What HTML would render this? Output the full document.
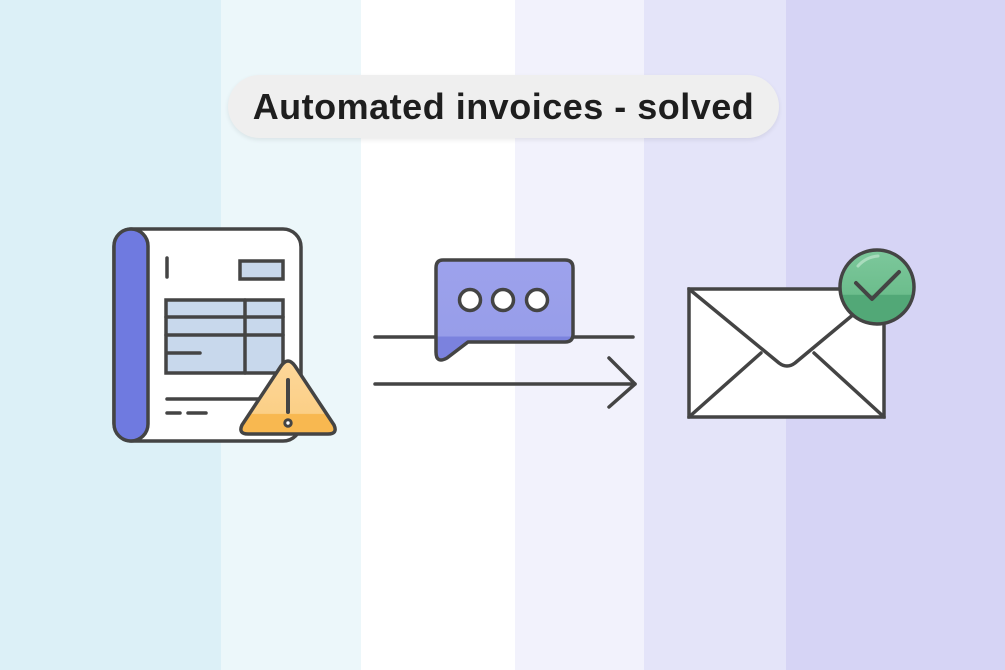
<!DOCTYPE html>
<html><head><meta charset="utf-8"><style>
html,body{margin:0;padding:0;}
body{width:1005px;height:670px;position:relative;overflow:hidden;background:#fff;}
.s{position:absolute;top:0;height:670px;}
.pill{position:absolute;left:228px;top:75px;width:551px;height:63px;border-radius:32px;background:#efefef;box-shadow:0 2px 5px rgba(0,0,0,0.08);}
.t{position:absolute;left:228px;top:75px;width:551px;height:63px;line-height:63px;text-align:center;font-family:"Liberation Sans",sans-serif;font-weight:bold;font-size:36px;letter-spacing:0.5px;color:#1e1e1e;}
svg{position:absolute;left:0;top:0;}
</style></head><body>
<div class="s" style="left:0;width:221px;background:#dcf0f7"></div>
<div class="s" style="left:221px;width:140px;background:#ecf7fa"></div>
<div class="s" style="left:361px;width:154px;background:#ffffff"></div>
<div class="s" style="left:515px;width:129px;background:#f2f2fc"></div>
<div class="s" style="left:644px;width:142px;background:#e4e4f9"></div>
<div class="s" style="left:786px;width:219px;background:#d6d4f5"></div>
<div class="pill"></div>
<div class="t">Automated invoices - solved</div>
<svg width="1005" height="670" viewBox="0 0 1005 670">
<defs>
<linearGradient id="warn" x1="0" y1="0" x2="0" y2="1">
<stop offset="0" stop-color="#fdd79a"/><stop offset="0.72" stop-color="#fbcf86"/><stop offset="0.73" stop-color="#f8b850"/><stop offset="1" stop-color="#f8b850"/>
</linearGradient>
<linearGradient id="bub" x1="0" y1="0" x2="0" y2="1">
<stop offset="0" stop-color="#9da2ec"/><stop offset="0.76" stop-color="#979de9"/><stop offset="0.77" stop-color="#7b82de"/><stop offset="1" stop-color="#7b82de"/>
</linearGradient>
<linearGradient id="grn" x1="0" y1="0" x2="0" y2="1">
<stop offset="0" stop-color="#7dc89c"/><stop offset="0.6" stop-color="#6cbd8c"/><stop offset="0.61" stop-color="#52a877"/><stop offset="1" stop-color="#52a877"/>
</linearGradient>
</defs>
<g stroke="#444" stroke-width="3.5" stroke-linecap="round" stroke-linejoin="round">
<!-- invoice -->
<rect x="114" y="229" width="187" height="212" rx="18" fill="#fff"/>
<rect x="114" y="229" width="34" height="212" rx="17" fill="#6f7ae0"/>
<line x1="167" y1="258" x2="167" y2="277"/>
<rect x="240" y="261" width="43" height="18" fill="#c8d8ec" stroke-linejoin="miter" stroke-linecap="butt"/>
<rect x="166" y="300" width="117" height="73" fill="#c8d8ec" stroke-linejoin="miter"/>
<line x1="166" y1="317" x2="283" y2="317"/>
<line x1="166" y1="335" x2="283" y2="335"/>
<line x1="245" y1="300" x2="245" y2="373"/>
<line x1="167" y1="353" x2="200" y2="353"/>
<line x1="167" y1="399" x2="262" y2="399"/>
<line x1="167" y1="413" x2="180" y2="413"/>
<line x1="188" y1="413" x2="206" y2="413"/>
<path d="M281 366 Q288 356 295 366 L334 425 Q338 434 328 434 L248 434 Q238 434 242 425 Z" fill="url(#warn)"/>
<line x1="288" y1="380" x2="288" y2="412" stroke-width="4"/>
<circle cx="288" cy="423" r="3.2" fill="#fff" stroke-width="3"/>
<!-- chat/arrow -->
<line x1="375" y1="337" x2="436" y2="337"/>
<line x1="573" y1="337" x2="633" y2="337"/>
<line x1="375" y1="384" x2="635" y2="384"/>
<polyline points="609,358 635,384 609,407" fill="none"/>
<path d="M443 260 L565 260 Q573 260 573 268 L573 334 Q573 342 565 342 L468 342 L447 358 Q436 364 436 352 L436 268 Q436 260 443 260 Z" fill="url(#bub)"/>
<circle cx="470" cy="300" r="10.5" fill="#fff"/>
<circle cx="503" cy="300" r="10.5" fill="#fff"/>
<circle cx="537" cy="300" r="10.5" fill="#fff"/>
<!-- envelope -->
<rect x="689" y="289" width="195" height="128" fill="#fff" stroke-linejoin="miter"/>
<path d="M689 289 L779 363 Q787 369 795 363 L884 289" fill="none"/>
<line x1="689" y1="417" x2="761" y2="353"/>
<line x1="884" y1="417" x2="814" y2="353"/>
<circle cx="877" cy="287" r="37" fill="url(#grn)"/>
<polyline points="856,283 872,299 899,272" fill="none" stroke-width="4"/>
</g>
<path d="M858 266 Q866 257 878 256" stroke="#a9dcbd" stroke-width="3" fill="none" stroke-linecap="round"/>
</svg>
</body></html>
